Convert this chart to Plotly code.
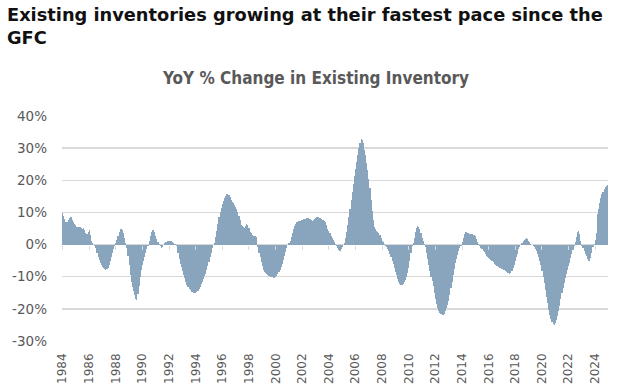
import plotly.graph_objects as go

# Monthly YoY % change in existing inventory, Jan 1984 - Dec 2024
start_year = 1984
yoy_1984 = [9.8, 9.0, 8.0, 7.0, 6.9, 7.5, 8.3, 8.7, 8.5, 7.8, 7.0, 6.5]
yoy_1985 = [6.0, 5.6, 5.4, 5.5, 5.6, 5.3, 5.0, 5.1, 4.4, 3.6, 3.4, 3.8]
yoy_1986 = [4.5, 3.0, 1.2, 0.4, -0.2, -0.5, -1.2, -2.5, -3.8, -4.8, -5.8, -6.5]
yoy_1987 = [-7.0, -7.4, -7.7, -7.8, -7.6, -7.2, -6.3, -5.2, -3.8, -2.5, -1.3, -0.3]
yoy_1988 = [0.5, 1.5, 2.8, 4.0, 4.7, 4.9, 4.5, 3.5, 2.0, 0.6, -1.0, -3.5]
yoy_1989 = [-6.5, -9.5, -11.5, -13.2, -14.5, -15.8, -16.8, -17.1, -15.5, -12.8, -10.0, -8.0]
yoy_1990 = [-6.5, -5.0, -3.8, -2.5, -1.3, -0.3, 1.0, 2.8, 4.0, 4.6, 4.5, 3.8]
yoy_1991 = [2.8, 1.8, 0.8, 0.1, -0.5, -1.0, -0.6, 0.0, 0.4, 0.7, 0.9, 1.1]
yoy_1992 = [1.2, 1.2, 1.0, 0.8, 0.5, 0.3, 0.1, -0.5, -2.5, -4.5, -6.0, -7.0]
yoy_1993 = [-8.2, -9.5, -10.5, -11.7, -12.6, -13.3, -13.8, -14.2, -14.6, -14.9, -15.1, -15.1]
yoy_1994 = [-15.0, -14.7, -14.3, -13.8, -13.2, -12.4, -11.5, -10.6, -9.8, -9.0, -8.0, -6.8]
yoy_1995 = [-5.5, -4.0, -2.5, -1.2, -0.2, 0.5, 2.5, 4.3, 6.5, 8.5, 10.0, 11.3]
yoy_1996 = [12.5, 13.6, 14.5, 15.2, 15.6, 15.7, 15.4, 14.8, 14.0, 13.4, 13.0, 12.4]
yoy_1997 = [11.8, 11.0, 10.2, 9.0, 7.5, 6.2, 5.8, 5.5, 5.2, 5.8, 6.5, 6.2]
yoy_1998 = [5.2, 4.0, 3.5, 3.0, 2.8, 2.6, 2.8, 2.5, -0.8, -2.5, -4.0, -5.5]
yoy_1999 = [-6.8, -7.8, -8.4, -8.9, -9.3, -9.6, -9.9, -10.0, -10.1, -10.2, -10.3, -10.3]
yoy_2000 = [-10.2, -9.8, -9.3, -8.6, -7.9, -7.0, -5.9, -4.7, -3.5, -2.3, -1.2, -0.2]
yoy_2001 = [0.5, 1.2, 2.3, 3.5, 4.8, 5.9, 6.5, 6.9, 7.1, 7.3, 7.4, 7.6]
yoy_2002 = [7.8, 7.9, 8.0, 8.1, 8.2, 8.3, 8.3, 8.0, 7.6, 7.4, 7.5, 7.9]
yoy_2003 = [8.3, 8.6, 8.7, 8.5, 8.2, 8.0, 7.8, 7.5, 7.2, 6.9, 6.0, 5.0]
yoy_2004 = [4.2, 3.5, 2.8, 2.0, 1.3, 0.7, 0.2, -0.5, -1.2, -1.7, -1.9, -1.5]
yoy_2005 = [-0.8, -0.2, 0.5, 2.0, 3.8, 6.0, 8.5, 11.0, 13.8, 16.5, 19.0, 21.3]
yoy_2006 = [23.5, 25.8, 28.0, 30.0, 31.7, 32.8, 32.6, 31.5, 29.5, 27.8, 25.5, 23.2]
yoy_2007 = [20.5, 17.5, 14.0, 10.5, 7.5, 5.5, 4.8, 4.3, 3.9, 3.6, 3.0, 2.2]
yoy_2008 = [1.2, 0.7, 0.2, -0.3, -0.8, -1.4, -2.1, -3.0, -4.0, -5.0, -6.0, -7.2]
yoy_2009 = [-8.4, -9.6, -10.7, -11.7, -12.3, -12.7, -12.6, -12.2, -11.6, -10.9, -10.0, -8.8]
yoy_2010 = [-7.2, -5.0, -2.5, -0.5, 0.5, 2.0, 3.8, 5.2, 5.9, 5.6, 4.8, 3.6]
yoy_2011 = [2.2, 1.0, 0.2, -0.8, -2.5, -4.5, -6.3, -8.2, -10.0, -11.2, -12.8, -15.0]
yoy_2012 = [-17.0, -18.5, -19.8, -20.6, -21.3, -21.7, -22.0, -22.0, -21.5, -20.7, -19.8, -18.8]
yoy_2013 = [-17.5, -15.7, -13.6, -11.5, -9.5, -7.5, -5.8, -4.5, -3.2, -2.0, -1.0, -0.3]
yoy_2014 = [0.8, 2.2, 3.3, 3.8, 3.9, 3.7, 3.5, 3.4, 3.3, 3.2, 3.0, 2.9]
yoy_2015 = [2.6, 1.8, 0.8, 0.2, -0.5, -1.0, -1.4, -1.9, -2.4, -3.0, -3.4, -3.8]
yoy_2016 = [-4.2, -4.5, -4.8, -5.1, -5.5, -5.9, -6.3, -6.6, -6.8, -7.0, -7.2, -7.4]
yoy_2017 = [-7.6, -7.8, -8.0, -8.2, -8.4, -8.7, -8.9, -9.0, -8.8, -8.1, -7.3, -6.3]
yoy_2018 = [-5.2, -4.0, -2.8, -1.5, -0.6, 0.0, 0.5, 1.0, 1.5, 1.8, 1.9, 1.6]
yoy_2019 = [1.2, 0.7, 0.3, -0.2, -0.5, -0.9, -1.3, -2.1, -3.0, -4.0, -5.0, -6.5]
yoy_2020 = [-8.2, -10.0, -12.0, -14.2, -16.3, -18.3, -20.2, -21.8, -23.0, -24.0, -24.8, -25.0]
yoy_2021 = [-24.5, -23.5, -22.3, -20.8, -19.0, -17.0, -15.2, -13.4, -11.8, -10.4, -9.2, -8.0]
yoy_2022 = [-6.8, -5.6, -4.3, -3.0, -1.6, -0.5, 0.8, 2.5, 3.8, 4.3, 3.2, 1.2]
yoy_2023 = [-0.3, -1.2, -2.0, -2.8, -3.6, -4.4, -5.0, -5.2, -4.3, -2.5, -0.8, 0.3]
yoy_2024 = [1.5, 3.5, 9.5, 11.2, 12.8, 14.5, 15.8, 16.5, 17.2, 17.8, 18.3, 18.6]

tick_labels = ["1984", "1986", "1988", "1990", "1992", "1994", "1996", "1998",
               "2000", "2002", "2004", "2006", "2008", "2010", "2012", "2014",
               "2016", "2018", "2020", "2022", "2024"]
y_ticks = [-30, -20, -10, 0, 10, 20, 30, 40]

title_text = "Existing inventories growing at their fastest pace since the<br>GFC"
subtitle_text = "YoY % Change in Existing Inventory"

yearly = [yoy_1984, yoy_1985, yoy_1986, yoy_1987, yoy_1988, yoy_1989, yoy_1990,
          yoy_1991, yoy_1992, yoy_1993, yoy_1994, yoy_1995, yoy_1996, yoy_1997,
          yoy_1998, yoy_1999, yoy_2000, yoy_2001, yoy_2002, yoy_2003, yoy_2004,
          yoy_2005, yoy_2006, yoy_2007, yoy_2008, yoy_2009, yoy_2010, yoy_2011,
          yoy_2012, yoy_2013, yoy_2014, yoy_2015, yoy_2016, yoy_2017, yoy_2018,
          yoy_2019, yoy_2020, yoy_2021, yoy_2022, yoy_2023, yoy_2024]
values = [v for yr in yearly for v in yr]
month_idx = list(range(len(values)))
tick_idx = [(int(t) - start_year) * 12 for t in tick_labels]

# plot-area geometry in pixels (figure is 620 x 389)
L, R, T, B = 62, 12, 116, 48
PW, PH = 620 - L - R, 389 - T - B

fig = go.Figure()
fig.add_trace(go.Bar(x=month_idx, y=values, marker=dict(color="#89a5bd", line=dict(width=0)),
                     hoverinfo="skip"))
# invisible helper trace so the tick-mark axis on the zero line is drawn
fig.add_trace(go.Scatter(x=month_idx, y=values, mode="none", xaxis="x2", hoverinfo="skip",
                         showlegend=False))

grid = "#d9d9d9"
fig.update_layout(
    width=620, height=389,
    margin=dict(l=L, r=R, t=T, b=B, autoexpand=False),
    paper_bgcolor="white", plot_bgcolor="white",
    showlegend=False,
    bargap=0,
    xaxis=dict(range=[-0.5, len(values) - 0.5], tickmode="array", tickvals=tick_idx,
               ticktext=tick_labels, tickangle=-90, showgrid=False, zeroline=False,
               showline=False, ticks="", ticklabelstandoff=9, automargin=False,
               tickfont=dict(family="DejaVu Sans", size=12, color="#595959")),
    xaxis2=dict(overlaying="x", matches="x", anchor="free", position=3 / 7,
                tickmode="array", tickvals=tick_idx, showticklabels=False,
                ticks="outside", ticklen=4, tickcolor=grid, tickwidth=1,
                showgrid=False, zeroline=False, showline=False),
    yaxis=dict(range=[-30, 40], tickmode="array", tickvals=y_ticks,
               ticktext=[f"{v}%" for v in y_ticks], showgrid=True, gridcolor=grid,
               gridwidth=1.5, zeroline=True, zerolinecolor=grid, zerolinewidth=1.5,
               ticks="", ticklabelstandoff=14, automargin=False,
               tickfont=dict(family="DejaVu Sans", size=13.5, color="#595959")),
)
fig.add_annotation(text="<b>" + title_text + "</b>", xref="paper", yref="paper",
                   x=(5 - L) / PW, y=(389 - B - 2) / PH, xanchor="left", yanchor="top",
                   align="left", showarrow=False,
                   font=dict(family="DejaVu Sans", size=17.8, color="#111111"))
fig.add_annotation(text="<b>" + subtitle_text + "</b>", xref="paper", yref="paper",
                   x=(315 - L) / PW, y=(389 - B - 78.5) / PH, xanchor="center",
                   yanchor="middle", showarrow=False,
                   font=dict(family="DejaVu Sans Condensed", size=17, color="#595959"))

fig.write_html("out.html", config={"displayModeBar": False, "staticPlot": True},
               post_script="document.body.style.margin='0';")
